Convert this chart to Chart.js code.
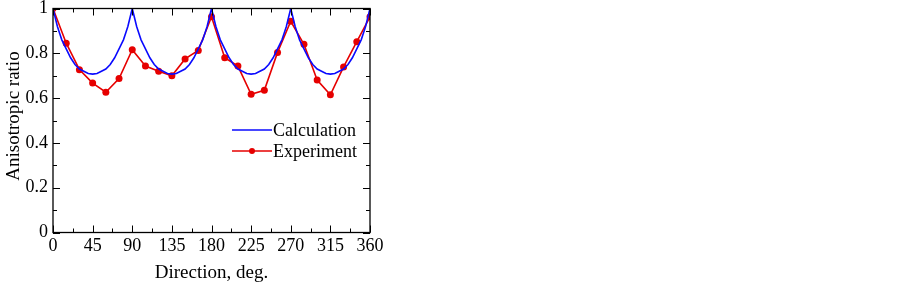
<!DOCTYPE html>
<html>
<head>
<meta charset="utf-8">
<script src="https://cdn.jsdelivr.net/npm/chart.js@4.4.0/dist/chart.umd.min.js"></script>
<style>
html,body{margin:0;padding:0;background:#fff;}
#wrap{position:absolute;left:0;top:0;width:902px;height:284px;}
</style>
</head>
<body>
<div id="wrap"><canvas id="c" width="902" height="284"></canvas></div>
<script>
// Calculation curve (finer steps near the cusps)
const calcAngles = [
  0,2.5,5,7.5,10,12.5,15,20,25,30,35,40,45,50,55,60,65,70,75,77.5,80,82.5,85,87.5,
  90,92.5,95,97.5,100,102.5,105,110,115,120,125,130,135,140,145,150,155,160,165,167.5,170,172.5,175,177.5,
  180,182.5,185,187.5,190,192.5,195,200,205,210,215,220,225,230,235,240,245,250,255,257.5,260,262.5,265,267.5,
  270,272.5,275,277.5,280,282.5,285,290,295,300,305,310,315,320,325,330,335,340,345,347.5,350,352.5,355,357.5,
  360];
const calcValues = [
  1.00,0.96,0.92,0.89,0.86,0.84,0.82,0.78,0.75,0.73,0.72,0.71,0.707,0.71,0.72,0.73,0.75,0.78,0.82,0.84,0.86,0.89,0.92,0.96,
  1.00,0.96,0.92,0.89,0.86,0.84,0.82,0.78,0.75,0.73,0.72,0.71,0.707,0.71,0.72,0.73,0.75,0.78,0.82,0.84,0.86,0.89,0.92,0.96,
  1.00,0.96,0.92,0.89,0.86,0.84,0.82,0.78,0.75,0.73,0.72,0.71,0.707,0.71,0.72,0.73,0.75,0.78,0.82,0.84,0.86,0.89,0.92,0.96,
  1.00,0.96,0.92,0.89,0.86,0.84,0.82,0.78,0.75,0.73,0.72,0.71,0.707,0.71,0.72,0.73,0.75,0.78,0.82,0.84,0.86,0.89,0.92,0.96,
  1.00];
// Experiment (every 15 deg)
const expAngles = [0,15,30,45,60,75,90,105,120,135,150,165,180,195,210,225,240,255,270,285,300,315,330,345,360];
const expValues = [1.00,0.845,0.727,0.667,0.626,0.687,0.816,0.743,0.72,0.70,0.775,0.813,0.963,0.78,0.743,0.617,0.635,0.804,0.943,0.84,0.681,0.615,0.739,0.852,0.963];
const xTicks = [0,45,90,135,180,225,270,315,360];
const yTicks = [0,0.2,0.4,0.6,0.8,1];
const seriesNames = ['Calculation','Experiment'];
const seriesColors = ['#0a0aff','#e60000'];
const xTitle = 'Direction, deg.';
const yTitle = 'Anisotropic ratio';

const FONT = '"Liberation Serif", "Times New Roman", serif';
const calcData = calcAngles.map((a,i)=>({x:a,y:calcValues[i]}));
const expData = expAngles.map((a,i)=>({x:a,y:expValues[i]}));

const frameTicks = {
  id:'frameTicks',
  afterDraw(chart){
    const {ctx, chartArea:a, scales:{x,y}} = chart;
    ctx.save();
    ctx.strokeStyle='#000';
    ctx.lineWidth=1.3;
    ctx.strokeRect(a.left,a.top,a.right-a.left,a.bottom-a.top);
    ctx.lineWidth=1;
    ctx.beginPath();
    for(let v=0; v<=360; v+=22.5){
      const px = Math.round(x.getPixelForValue(v))+0.5;
      const L = (v%45===0)?7:4;
      ctx.moveTo(px,a.bottom); ctx.lineTo(px,a.bottom-L);
      ctx.moveTo(px,a.top); ctx.lineTo(px,a.top+L);
    }
    for(let k=0;k<=10;k++){
      const v=k/10;
      const py = Math.round(y.getPixelForValue(v))+0.5;
      const L = (k%2===0)?7:4;
      ctx.moveTo(a.left,py); ctx.lineTo(a.left+L,py);
      ctx.moveTo(a.right,py); ctx.lineTo(a.right-L,py);
    }
    ctx.stroke();
    // y-axis title
    ctx.save();
    ctx.translate(14,116);
    ctx.rotate(-Math.PI/2);
    ctx.font='19px '+FONT;
    ctx.textAlign='center';
    ctx.textBaseline='middle';
    ctx.fillStyle='#000';
    ctx.fillText(yTitle,0,0);
    ctx.restore();
    // legend
    const ys=[130,151];
    ctx.font='18px '+FONT;
    ctx.textBaseline='middle';
    ctx.textAlign='left';
    chart.data.datasets.forEach((ds,i)=>{
      const yy=ys[i];
      ctx.strokeStyle=ds.borderColor; ctx.lineWidth=1.6;
      ctx.beginPath(); ctx.moveTo(232,yy); ctx.lineTo(272,yy); ctx.stroke();
      if(ds.pointRadius>0){
        ctx.fillStyle=ds.borderColor;
        ctx.beginPath(); ctx.arc(252,yy,3,0,Math.PI*2); ctx.fill();
      }
      ctx.fillStyle='#000';
      ctx.fillText(ds.label,273,yy+1);
    });
    ctx.restore();
  }
};

function zeroPad(s){s.paddingTop=0;s.paddingBottom=0;s.paddingLeft=0;s.paddingRight=0;}

new Chart(document.getElementById('c'),{
  type:'line',
  data:{datasets:[
    {label:seriesNames[0],data:calcData,borderColor:seriesColors[0],borderWidth:1.6,pointRadius:0,tension:0,fill:false},
    {label:seriesNames[1],data:expData,borderColor:seriesColors[1],backgroundColor:seriesColors[1],borderWidth:1.6,pointRadius:3.5,pointBackgroundColor:seriesColors[1],pointBorderWidth:0,tension:0,fill:false}
  ]},
  options:{
    responsive:false,animation:false,
    layout:{padding:{left:0,right:532,top:8.5,bottom:0}},
    plugins:{legend:{display:false},tooltip:{enabled:false}},
    scales:{
      x:{type:'linear',min:0,max:360,
        afterBuildTicks(s){s.ticks=xTicks.map(v=>({value:v}));},
        afterFit(s){s.height=51.5;zeroPad(s);},
        grid:{display:false,drawTicks:false},
        border:{display:false},
        ticks:{color:'#000',font:{family:FONT,size:18},padding:3,maxRotation:0,autoSkip:false},
        title:{display:true,text:xTitle,color:'#000',font:{family:FONT,size:19},padding:{top:2,bottom:0}}
      },
      y:{type:'linear',min:0,max:1,
        afterBuildTicks(s){s.ticks=yTicks.map(v=>({value:v}));},
        afterFit(s){s.width=53;zeroPad(s);},
        grid:{display:false,drawTicks:false},
        border:{display:false},
        ticks:{color:'#000',font:{family:FONT,size:18},padding:5,autoSkip:false,callback:v=>String(v)},
        title:{display:false}
      }
    }
  },
  plugins:[frameTicks]
});
</script>
</body>
</html>
